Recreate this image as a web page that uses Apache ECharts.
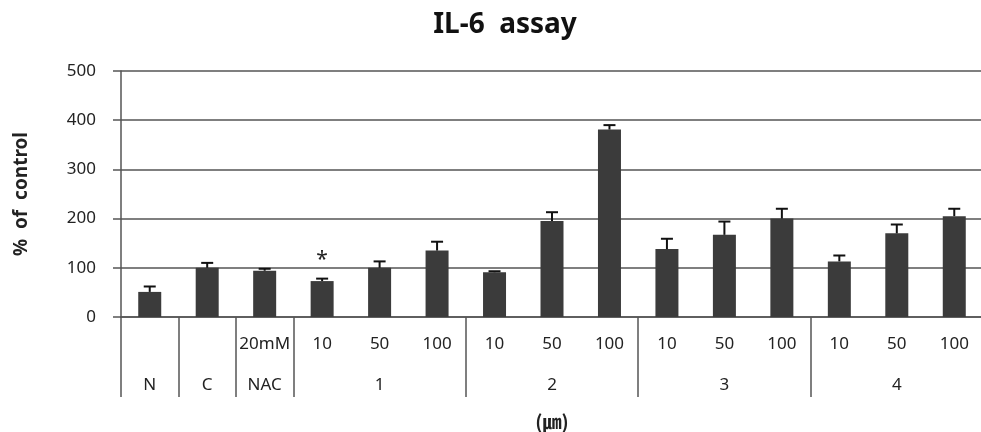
<!DOCTYPE html>
<html>
<head>
<meta charset="utf-8">
<script src="https://cdn.jsdelivr.net/npm/echarts@6/dist/echarts.min.js"></script>
<style>html,body{margin:0;padding:0;background:#fff}#c{width:981px;height:432px}</style>
</head>
<body>
<div id="c"></div>
<script>
var doseLabels = ['', '', '20mM', '10', '50', '100', '10', '50', '100', '10', '50', '100', '10', '50', '100'];
var groupLabels = ['N', 'C', 'NAC', '', '1', '', '', '2', '', '', '3', '', '', '4', ''];
var groupStarts = [0, 1, 2, 3, 6, 9, 12];
var values = [51, 100, 94, 73, 100, 135, 91, 195, 381, 138, 167, 200, 113, 170, 205];
var errors = [11, 10, 4, 5, 13, 18, 2, 18, 9, 21, 27, 20, 12, 18, 15];
var stars = ['', '', '', '*', '', '', '', '', '', '', '', '', '', '', ''];
var yTicks = [0, 100, 200, 300, 400, 500];

var font = '"Noto Sans", "Noto Sans CJK KR", sans-serif';
var cjk = '"Noto Sans CJK KR", "Noto Sans", sans-serif';
var chart = echarts.init(document.getElementById('c'));

var barData = values.map(function (v, i) {
  var d = { value: v };
  if (stars[i]) {
    d.label = { show: true, formatter: stars[i], position: 'top', distance: 11, fontSize: 21, color: '#222', fontFamily: font };
  }
  return d;
});
var errData = values.map(function (v, i) { return [i, v, errors[i]]; });

chart.setOption({
  animation: false,
  title: {
    text: 'IL-6  assay', left: 500, top: 6, textAlign: 'center',
    textStyle: { fontFamily: font, fontSize: 28, fontWeight: 'bold', color: '#111' }
  },
  grid: { left: 121, top: 71, width: 862, height: 246, outerBoundsMode: 'none', containLabel: false },
  xAxis: [{
    type: 'category', data: doseLabels, position: 'bottom',
    axisLine: { lineStyle: { color: '#555', width: 1.5 } },
    axisTick: {
      show: true, inside: false, length: 80,
      interval: function (idx) { return groupStarts.indexOf(idx) >= 0; },
      lineStyle: { color: '#555', width: 1.5 }
    },
    axisLabel: { interval: 0, margin: 19, fontSize: 17, color: '#222', fontFamily: font }
  }, {
    type: 'category', data: groupLabels, position: 'bottom', offset: 40,
    axisLine: { show: false }, axisTick: { show: false },
    axisLabel: { interval: 0, margin: 20, fontSize: 17, color: '#222', fontFamily: font },
    name: '(㎛)', nameLocation: 'middle', nameGap: 55,
    nameTextStyle: { fontFamily: cjk, fontSize: 19, fontWeight: 'bold', color: '#222' }
  }],
  yAxis: {
    type: 'value', min: yTicks[0], max: yTicks[yTicks.length - 1], interval: 100,
    name: '%  of  control', nameLocation: 'middle', nameRotate: 90, nameGap: 90,
    nameTextStyle: { fontFamily: font, fontSize: 19, fontWeight: 'bold', color: '#222' },
    axisLine: { show: true, lineStyle: { color: '#555', width: 1.5 } },
    axisTick: { show: true, length: 8, lineStyle: { color: '#555', width: 1.5 } },
    axisLabel: { margin: 25, fontSize: 17, color: '#222', fontFamily: font },
    splitLine: { show: true, lineStyle: { color: '#555', width: 1.5 } }
  },
  series: [{
    type: 'bar', data: barData, barWidth: 23, xAxisIndex: 0,
    itemStyle: { color: '#3b3b3b' }
  }, {
    type: 'custom', xAxisIndex: 0, data: errData, z: 5,
    renderItem: function (params, api) {
      var x = api.value(0), v = api.value(1), e = api.value(2);
      var p0 = api.coord([x, v]);
      var p1 = api.coord([x, v + e]);
      var s = { stroke: '#111', lineWidth: 2 };
      return { type: 'group', children: [
        { type: 'line', shape: { x1: p0[0], y1: p0[1], x2: p1[0], y2: p1[1] }, style: s },
        { type: 'line', shape: { x1: p1[0] - 6, y1: p1[1], x2: p1[0] + 6, y2: p1[1] }, style: s }
      ] };
    }
  }]
});
</script>
</body>
</html>
